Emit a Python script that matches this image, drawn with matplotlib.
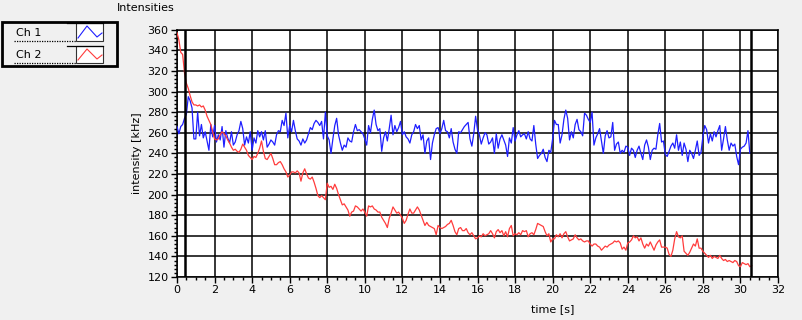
import matplotlib
matplotlib.use("Agg")
import matplotlib.pyplot as plt
import numpy as np
from matplotlib.patches import Rectangle
from matplotlib.lines import Line2D
from matplotlib.ticker import MultipleLocator

# sampling step of both channels [s]
SAMPLE_STEP = 0.1

# Ch 2 (red), kHz, every 0.1 s from t = 0
ch2 = [
    357, 350, 338, 336, 318, 308, 303, 296, 290, 287,
    287, 286, 287, 285, 286, 282, 276, 272, 268, 261,
    254, 253, 254, 258, 261, 259, 257, 253, 250, 246,
    243, 244, 242, 241, 244, 249, 246, 243, 238, 236,
    234, 237, 236, 240, 245, 252, 242, 235, 234, 237,
    240, 235, 229, 229, 231, 232, 229, 225, 222, 217,
    219, 222, 222, 221, 223, 221, 213, 221, 225, 220,
    216, 215, 217, 212, 206, 199, 197, 199, 197, 195,
    211, 207, 208, 205, 210, 206, 200, 195, 190, 191,
    188, 185, 179, 183, 184, 189, 188, 186, 184, 186,
    183, 179, 189, 188, 189, 186, 185, 183, 183, 178,
    175, 172, 168, 177, 182, 188, 185, 182, 183, 180,
    177, 172, 175, 181, 186, 182, 182, 185, 188, 185,
    180, 175, 170, 173, 170, 169, 168, 167, 161, 170,
    168, 167, 168, 169, 171, 172, 175, 170, 164, 161,
    167, 168, 165, 165, 167, 163, 161, 163, 160, 157,
    158, 160, 159, 162, 160, 161, 162, 165, 162, 158,
    164, 166, 163, 165, 160, 164, 159, 167, 170, 160,
    162, 161, 163, 161, 165, 164, 165, 159, 162, 163,
    161, 166, 172, 171, 170, 169, 164, 160, 162, 154,
    157, 157, 161, 159, 162, 158, 162, 164, 159, 155,
    156, 157, 161, 158, 156, 157, 155, 154, 155, 155,
    152, 150, 152, 152, 150, 149, 146, 148, 150, 149,
    151, 152, 153, 155, 154, 155, 153, 147, 149, 146,
    153, 154, 156, 160, 158, 159, 155, 158, 152, 148,
    152, 150, 154, 150, 146, 151, 154, 156, 149, 149,
    149, 148, 142, 140, 146, 157, 164, 159, 158, 160,
    145, 143, 141, 144, 148, 152, 150, 157, 148, 148,
    145, 143, 141, 139, 141, 138, 140, 139, 138, 141,
    138, 136, 137, 135, 136, 135, 134, 136, 135, 131,
    130, 134, 133, 132, 133, 130, 131,
]

# Ch 1 (blue), kHz
ch1 = [
    266, 259, 266, 268, 274, 278, 295, 291, 284, 254,
    254, 280, 257, 268, 255, 261, 252, 243, 268, 256,
    267, 251, 258, 253, 266, 246, 262, 255, 250, 261,
    248, 251, 258, 262, 271, 264, 248, 256, 250, 261,
    243, 255, 250, 262, 256, 261, 253, 262, 246, 249,
    253, 251, 248, 258, 262, 261, 272, 267, 279, 255,
    267, 261, 272, 262, 254, 252, 248, 254, 250, 253,
    259, 265, 263, 269, 272, 270, 267, 271, 254, 280,
    257, 253, 240, 254, 267, 274, 258, 250, 243, 248,
    246, 255, 252, 251, 261, 268, 262, 263, 261, 259,
    254, 248, 267, 260, 273, 282, 268, 262, 264, 242,
    255, 261, 252, 264, 277, 258, 267, 261, 265, 271,
    258, 261, 256, 254, 250, 258, 261, 268, 264, 267,
    253, 258, 240, 252, 255, 234, 250, 258, 264, 265,
    259, 264, 272, 262, 261, 255, 264, 251, 244, 240,
    261, 260, 263, 266, 268, 270, 254, 247, 259, 276,
    263, 258, 249, 255, 260, 258, 249, 251, 255, 240,
    259, 245, 254, 258, 253, 248, 237, 255, 250, 265,
    252, 258, 262, 256, 258, 259, 254, 261, 254, 252,
    267, 249, 235, 238, 240, 244, 236, 232, 243, 241,
    254, 272, 268, 268, 250, 258, 273, 282, 274, 253,
    261, 255, 268, 273, 263, 261, 257, 279, 277, 273,
    270, 280, 248, 255, 259, 264, 252, 240, 257, 262,
    255, 256, 270, 243, 249, 251, 240, 243, 241, 247,
    246, 238, 245, 243, 236, 243, 247, 240, 234, 248,
    253, 246, 234, 243, 245, 244, 258, 269, 251, 252,
    239, 237, 242, 247, 250, 245, 258, 243, 251, 238,
    250, 244, 232, 243, 240, 235, 243, 252, 238, 241,
    256, 267, 263, 250, 259, 252, 261, 256, 262, 267,
    243, 254, 266, 253, 243, 250, 247, 249, 237, 229,
    244, 246, 247, 250, 262, 240, 241,
]

cursors = [0.43, 30.56]
channel_names = ["Ch 1", "Ch 2"]
channel_colors = ["#1f1fff", "#ff3c3c"]

BG = "#f0f0f0"
W, H = 802, 320


def fx(x):
    return x / W


def fy(y):
    return 1 - y / H


plt.rcParams["font.family"] = ["DejaVu Sans"]
plt.rcParams["font.size"] = 8

fig = plt.figure(figsize=(W / 100, H / 100), dpi=100, facecolor=BG)
ax = fig.add_axes([fx(177), fy(277), (778 - 177) / W, (277 - 29.7) / H])
ax.set_facecolor("white")

t1 = np.arange(len(ch1)) * SAMPLE_STEP
t2 = np.arange(len(ch2)) * SAMPLE_STEP
ax.plot(t1, ch1, color=channel_colors[0], lw=0.9, zorder=3)
ax.plot(t2, ch2, color=channel_colors[1], lw=0.9, zorder=4)
for c in cursors:
    ax.axvline(c, color="black", lw=1.8, zorder=5)

ax.set_xlim(0, 32)
ax.set_ylim(120, 360)
ax.xaxis.set_major_locator(MultipleLocator(2))
ax.xaxis.set_minor_locator(MultipleLocator(0.5))
ax.yaxis.set_major_locator(MultipleLocator(20))
ax.yaxis.set_minor_locator(MultipleLocator(4))
ax.grid(True, which="major", color="black", lw=1.1, zorder=1)
ax.set_axisbelow(True)
ax.tick_params(which="major", direction="out", length=4, width=1, pad=2, labelsize=8)
ax.tick_params(which="minor", direction="out", length=2, width=1)
for s in ax.spines.values():
    s.set_color("black")
    s.set_linewidth(1.1)

ax.set_ylabel("intensity [kHz]", fontsize=8, labelpad=4)
ax.set_xlabel("time [s]", fontsize=8)
ax.xaxis.set_label_coords(0.625, -0.11)
fig.text(fx(117), fy(8), "Intensities", fontsize=8, ha="left", va="center")

# legend box, drawn in figure pixels
fig.patches.append(Rectangle((fx(2), fy(66)), fx(115), 44 / H, transform=fig.transFigure,
                             facecolor=BG, edgecolor="black", lw=2))
rows = [(23, 41), (46, 63)]
for (top, bot), name, col in zip(rows, channel_names, channel_colors):
    fig.text(fx(16), fy((top + bot) / 2 + 0.5), name, fontsize=8, ha="left", va="center")
    fig.lines.append(Line2D([fx(14), fx(76)], [fy(bot), fy(bot)], transform=fig.transFigure,
                            color="black", lw=0.9, ls=(0, (1, 1))))
    fig.lines.append(Line2D([fx(67), fx(103)], [fy(top), fy(top)], transform=fig.transFigure,
                            color="black", lw=0.9))
    fig.patches.append(Rectangle((fx(76), fy(bot)), fx(27), (bot - top) / H,
                                 transform=fig.transFigure, facecolor="white",
                                 edgecolor="#333333", lw=0.8))
    zx = [78, 87, 97, 102]
    zy = [bot - 3, top + 3, bot - 4, bot - 8]
    fig.lines.append(Line2D([fx(v) for v in zx], [fy(v) for v in zy],
                            transform=fig.transFigure, color=col, lw=0.8))

fig.savefig("out.png", dpi=100, facecolor=BG)
